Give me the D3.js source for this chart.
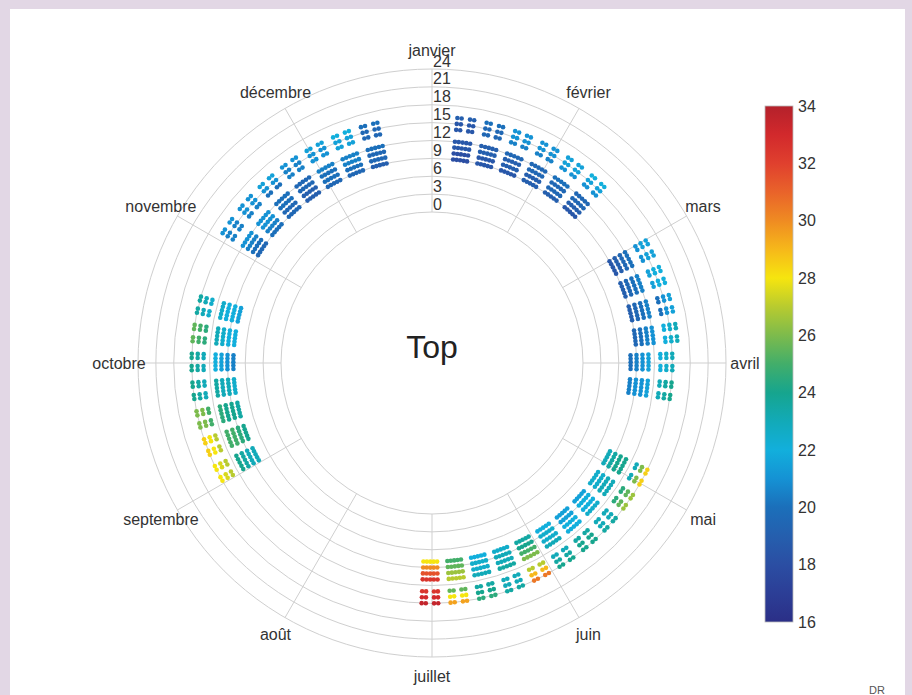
<!DOCTYPE html>
<html>
<head>
<meta charset="utf-8">
<script src="https://cdn.jsdelivr.net/npm/d3@7"></script>
<style>
  html, body { margin: 0; padding: 0; background: #e2d7e5; }
  svg { display: block; }
</style>
</head>
<body>
<svg id="chart" width="912" height="695"></svg>
<script>
// Months around the dial, clockwise from the top
const months = ["janvier", "février", "mars", "avril", "mai", "juin",
                "juillet", "août", "septembre", "octobre", "novembre", "décembre"];
// Radial axis: hour of day
const radialTicks = [0, 3, 6, 9, 12, 15, 18, 21, 24];
// Colour bar: temperature (°C)
const colorTicks = [16, 18, 20, 22, 24, 26, 28, 30, 32, 34];

// Recorded hours (morning every weekday, afternoon except Wednesday)
const amHours = [8, 9, 10, 11];
const pmHours = [13, 14, 15];
const amDays = [0, 1, 2, 3, 4];
const pmDays = [0, 1, 3, 4];

// Day of year (0 = 1 January) of the Monday of each school week
const weekStarts = [
  6, 13, 20, 27, 34, 41,
  61, 68, 75, 82, 89, 96,
  118, 125, 132, 139, 146, 153, 160, 167, 174, 181,
  244, 251, 258, 265, 272, 279, 286,
  306, 313, 320, 327, 334, 341, 348
];

// Clock offset of the timestamps (1 h later during winter time)
const clockShift = [
  1, 1, 1, 1, 1, 1,
  1, 1, 1, 1, 0, 0,
  0, 0, 0, 0, 0, 0, 0, 0, 0, 0,
  0, 0, 0, 0, 0, 0, 0,
  1, 1, 1, 1, 1, 1, 1
];

// Morning temperatures per week, one value per recorded hour
const amTemps = [
  [18, 18, 18.5, 18.5], [18.5, 18.5, 19, 19], [18.5, 19, 19, 19.5], [19, 19, 19.5, 19.5], [19, 19.5, 19.5, 20], [18.5, 19, 19.5, 19.5],
  [18.5, 19, 19.5, 20], [19, 19.5, 20, 20.5], [19, 19.5, 20, 20.5], [19.5, 20, 20.5, 21], [20, 20.5, 21, 21.5], [20.5, 21, 21, 21.5],
  [23, 23.5, 24, 24], [22.5, 22.5, 23, 23], [21.5, 22, 22, 22.5], [21.5, 21.5, 22, 22], [22, 22.5, 22.5, 23], [23.5, 24, 25, 26], [22.5, 23, 23, 23.5], [22, 22.5, 22.5, 23], [25, 25.5, 26.5, 27], [28, 30, 31.5, 32.5],
  [23, 23, 23.5, 24], [24, 24.5, 25, 25], [23.5, 24, 24, 24.5], [22.5, 23, 23, 23.5], [20.5, 21, 21.5, 22], [22, 22, 22.5, 23], [21.5, 22, 22, 22.5],
  [19.5, 20, 20.5, 21], [20, 20.5, 21, 21], [19.5, 19.5, 20, 20], [19, 19, 19.5, 19.5], [19.5, 20, 20, 20.5], [19.5, 20, 20.5, 20.5], [19, 19.5, 19.5, 20]
];

// Afternoon temperatures per week, one value per recorded hour
const pmTemps = [
  [18.5, 18.5, 19], [19.5, 19.5, 20], [20.5, 21, 21], [20.5, 21, 21], [21, 21.5, 21.5], [21, 21.5, 22],
  [21, 21.5, 21.5], [21.5, 22, 22], [20, 21, 21.5], [22, 22.5, 23], [22, 22.5, 23], [23, 23.5, 24],
  [23, 26, 28.5], [24.5, 25.5, 26.5], [23, 23, 23.5], [23.5, 24, 24], [23, 23.5, 24], [27, 29, 30.5], [23, 23, 23.5], [23.5, 24, 24.5], [25.5, 28, 29.5], [32.5, 33, 33.5],
  [27, 27.5, 28], [27, 28, 28.5], [25, 26, 26], [23, 23.5, 24], [23, 23.5, 24], [24.5, 25, 25.5], [22.5, 23, 23.5],
  [20.5, 20.5, 21], [20.5, 21, 21], [20, 21, 21.5], [20.5, 20.5, 21], [21, 21, 21.5], [21.5, 21.5, 22], [19.5, 19.5, 20]
];

// ---- colour map ----
const cmapStops = [16, 17, 18, 19, 20, 21, 22, 23, 24, 25, 26, 27, 28, 29, 30, 31, 32, 33, 34];
const cmapColors = ["#2b2f87", "#2c3e96", "#2b4ea3", "#255fae", "#1b6fba", "#1592d4", "#12afdc",
                    "#12aab8", "#16a58e", "#42ae6a", "#7dbb4c", "#b8cb2f", "#f6e50f", "#f6b81a",
                    "#ef8b22", "#e9632a", "#e0402e", "#d2292c", "#b4212b"];
const color = d3.scaleLinear().domain(cmapStops).range(cmapColors).clamp(true);

// ---- layout ----
const svg = d3.select("#chart");
const cx = 432, cy = 363;
const rScale = d3.scaleLinear().domain([0, 24]).range([151, 294]);
const dayAngle = d3.scaleLinear().domain([0, 365]).range([0, 2 * Math.PI]);
const monthAngle = d3.scaleLinear().domain([0, 12]).range([0, 2 * Math.PI]);
const polar = (a, r) => [cx + r * Math.sin(a), cy - r * Math.cos(a)];

svg.append("rect").attr("x", 10).attr("y", 9).attr("width", 895).attr("height", 700).attr("fill", "#ffffff");

const g = svg.append("g");

// concentric grid
g.selectAll("circle.grid").data(radialTicks).join("circle")
  .attr("class", "grid")
  .attr("cx", cx).attr("cy", cy).attr("r", d => rScale(d))
  .attr("fill", "none").attr("stroke", "#cfcfcf").attr("stroke-width", 1);

// spokes
g.selectAll("line.spoke").data(months).join("line")
  .attr("class", "spoke")
  .attr("x1", (d, i) => polar(monthAngle(i), rScale(0))[0])
  .attr("y1", (d, i) => polar(monthAngle(i), rScale(0))[1])
  .attr("x2", (d, i) => polar(monthAngle(i), rScale(24))[0])
  .attr("y2", (d, i) => polar(monthAngle(i), rScale(24))[1])
  .attr("stroke", "#cfcfcf").attr("stroke-width", 1);

// points
const points = [];
weekStarts.forEach((start, w) => {
  const s = clockShift[w];
  amHours.forEach((h, j) => amDays.forEach(d => points.push({ day: start + d, hour: h + s, t: amTemps[w][j] })));
  pmHours.forEach((h, j) => pmDays.forEach(d => points.push({ day: start + d, hour: h + s, t: pmTemps[w][j] })));
});
g.selectAll("circle.pt").data(points).join("circle")
  .attr("class", "pt")
  .attr("cx", d => polar(dayAngle(d.day), rScale(d.hour))[0])
  .attr("cy", d => polar(dayAngle(d.day), rScale(d.hour))[1])
  .attr("r", 2.3)
  .attr("fill", d => color(d.t));

// radial tick labels
g.selectAll("text.rtick").data(radialTicks).join("text")
  .attr("class", "rtick")
  .attr("x", cx + 1).attr("y", d => cy - rScale(d) - 8)
  .attr("dy", "0.35em")
  .attr("font-family", "Liberation Sans, Arial, sans-serif").attr("font-size", 16)
  .attr("fill", "#333").text(d => d);

// month labels
g.selectAll("text.month").data(months).join("text")
  .attr("class", "month")
  .attr("x", (d, i) => polar(monthAngle(i), 313)[0])
  .attr("y", (d, i) => polar(monthAngle(i), 313)[1])
  .attr("dy", "0.35em").attr("text-anchor", "middle")
  .attr("font-family", "Liberation Sans, Arial, sans-serif").attr("font-size", 16)
  .attr("fill", "#333").text(d => d);

// centre title
svg.append("text").attr("x", cx).attr("y", 347).attr("dy", "0.35em")
  .attr("text-anchor", "middle")
  .attr("font-family", "Liberation Sans, Arial, sans-serif").attr("font-size", 32)
  .attr("fill", "#222").text("Top");

// ---- colour bar ----
const barX = 765, barW = 28;
const cbScale = d3.scaleLinear().domain([16, 34]).range([622, 106]);
const defs = svg.append("defs");
const grad = defs.append("linearGradient").attr("id", "cbar")
  .attr("x1", 0).attr("y1", 1).attr("x2", 0).attr("y2", 0);
grad.selectAll("stop").data(cmapStops).join("stop")
  .attr("offset", d => (d - 16) / 18)
  .attr("stop-color", d => color(d));
svg.append("rect").attr("x", barX).attr("y", cbScale(34)).attr("width", barW)
  .attr("height", cbScale(16) - cbScale(34))
  .attr("fill", "url(#cbar)").attr("stroke", "#bbb").attr("stroke-width", 0.8);

const cbAxis = svg.append("g").attr("transform", `translate(${barX + barW},0)`)
  .call(d3.axisRight(cbScale).tickValues(colorTicks).tickSize(0).tickPadding(5));
cbAxis.select(".domain").remove();
cbAxis.selectAll("text").attr("font-family", "Liberation Sans, Arial, sans-serif")
  .attr("font-size", 16).attr("fill", "#333");

// credit
svg.append("text").attr("x", 877).attr("y", 694).attr("text-anchor", "middle")
  .attr("font-family", "Liberation Sans, Arial, sans-serif").attr("font-size", 11)
  .attr("fill", "#555").text("DR");
</script>
</body>
</html>
